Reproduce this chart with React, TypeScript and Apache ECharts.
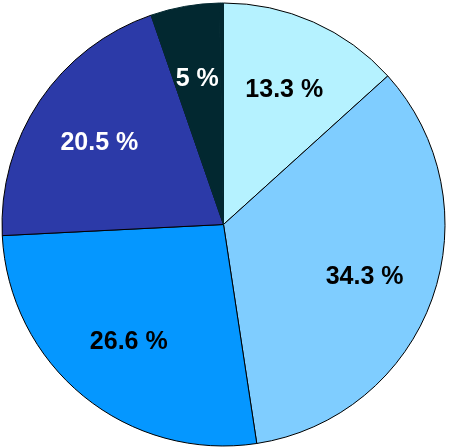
import React, { useEffect, useRef } from "react";
import * as echarts from "echarts";

const categories = ["A", "B", "C", "D", "E"];
const values = [13.3, 34.3, 26.6, 20.5, 5];
// unlabelled remainder up to a full circle, drawn in the last slice's colour
const remainder = 0.3;
const colors = ["#b5f2ff", "#7fcdff", "#0597ff", "#2c3aa8", "#022830"];
const labelColors = ["#000000", "#000000", "#000000", "#ffffff", "#ffffff"];

export default function App() {
  const ref = useRef<HTMLDivElement>(null);
  useEffect(() => {
    if (!ref.current) return;
    const chart = echarts.init(ref.current, null, { renderer: "svg" });
    const last = colors.length - 1;
    const geom: any[] = categories.map((name, i) => ({
      name,
      value: values[i],
      itemStyle:
        i === last
          ? { color: colors[i], borderColor: colors[i] }
          : { color: colors[i] },
    }));
    geom.push({
      name: "rest",
      value: remainder,
      itemStyle: { color: colors[last], borderColor: colors[last] },
    });
    const labelled: any[] = categories.map((name, i) => ({
      name,
      value: values[i],
      label: { show: true, color: labelColors[i] },
    }));
    labelled.push({ name: "rest", value: remainder, label: { show: false } });
    const center = [223.5, 224.5];
    chart.setOption({
      animation: false,
      series: [
        {
          type: "pie",
          center,
          radius: [0, 221.5],
          startAngle: 90,
          clockwise: true,
          silent: true,
          label: { show: false },
          labelLine: { show: false },
          itemStyle: { borderColor: "#000000", borderWidth: 1 },
          data: geom,
        },
        {
          type: "pie",
          center,
          radius: [72, 221.5],
          startAngle: 90,
          clockwise: true,
          silent: true,
          labelLine: { show: false },
          itemStyle: { color: "rgba(0,0,0,0)", borderWidth: 0 },
          label: {
            position: "inside",
            formatter: "{c} %",
            fontFamily: "Liberation Sans, Arial, sans-serif",
            fontWeight: "bold",
            fontSize: 25,
          },
          data: labelled,
        },
      ],
    });
    return () => chart.dispose();
  }, []);
  return (
    <div
      ref={ref}
      style={{ position: "fixed", left: 0, top: 0, width: 449, height: 448 }}
    />
  );
}
